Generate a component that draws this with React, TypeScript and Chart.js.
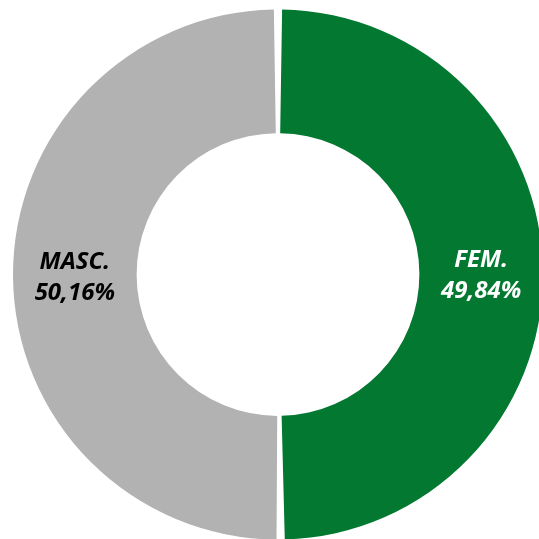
import React, { useEffect, useRef } from "react";
import { Chart, registerables } from "chart.js";

Chart.register(...registerables);

const categories = ["FEM.", "MASC."];
const values = [49.84, 50.16];
const valueLabels = ["49,84%", "50,16%"];
const colors = ["#027830", "#b2b2b2"];
const labelColors = ["#ffffff", "#000000"];

const labelPlugin = {
  id: "sliceLabels",
  afterDatasetsDraw(chart: any) {
    const ctx = chart.ctx;
    const meta = chart.getDatasetMeta(0);
    meta.data.forEach((arc: any, i: number) => {
      const p = arc.tooltipPosition();
      ctx.save();
      ctx.font = "italic bold 24px 'Noto Sans'";
      ctx.fillStyle = labelColors[i];
      ctx.textAlign = "center";
      ctx.textBaseline = "middle";
      ctx.fillText(categories[i], p.x, p.y - 13);
      ctx.fillText(valueLabels[i], p.x, p.y + 18);
      ctx.restore();
    });
  },
};

export default function App() {
  const ref = useRef<HTMLCanvasElement>(null);
  useEffect(() => {
    if (!ref.current) return;
    const chart = new Chart(ref.current, {
      type: "doughnut",
      data: {
        labels: categories,
        datasets: [
          {
            data: values,
            backgroundColor: colors,
            borderWidth: 0,
            spacing: 4,
          },
        ],
      },
      options: {
        responsive: false,
        animation: false,
        cutout: "53%",
        layout: { padding: { left: 13, right: 17, top: 9.5, bottom: 9.5 } },
        plugins: {
          legend: { display: false },
          tooltip: { enabled: false },
        },
      },
      plugins: [labelPlugin],
    });
    return () => chart.destroy();
  }, []);
  return (
    <div style={{ position: "fixed", left: 0, top: 0, width: 539, height: 539, overflow: "hidden", background: "#fff" }}>
      <canvas ref={ref} width={560} height={549} style={{ width: 560, height: 549 }} />
    </div>
  );
}
